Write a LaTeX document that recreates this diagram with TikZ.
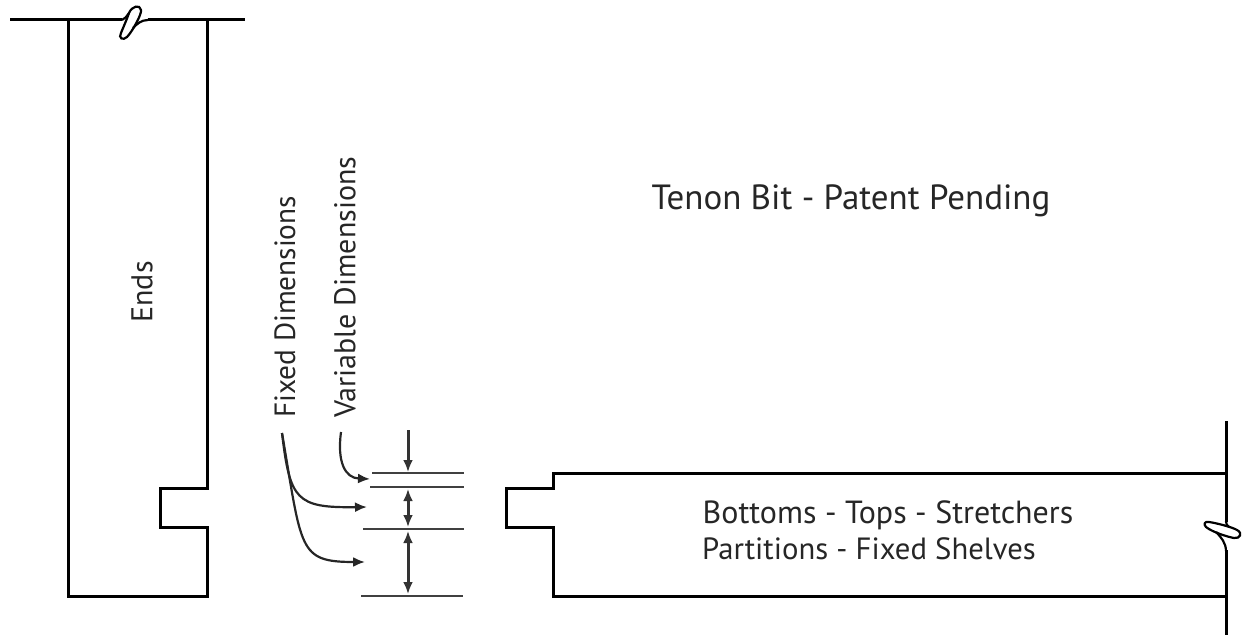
\documentclass[tikz,border=0pt]{standalone}
\usepackage{fontspec}
\setmainfont{PT Sans}
\usetikzlibrary{arrows.meta,positioning}
\begin{document}
\begin{tikzpicture}[x=1pt,y=-1pt,>={Latex[length=12pt,width=10pt]},
    outline/.style={line width=3pt,line join=miter},
    thinline/.style={line width=2pt,draw=black!75},
    dimline/.style={line width=3pt,draw=black!80,<->},
    leader/.style={line width=2.2pt,draw=black!85,->},
    breakline/.style={line width=2.2pt},
    label/.style={inner sep=0pt,text=black!85}]
  \useasboundingbox (0,0) rectangle (1243,636);
  % end panel
  \draw[outline] (10,20) -- (122,20);
  \draw[outline] (148,20) -- (245,20);
  \draw[outline] (68,20) -- (68,596) -- (207,596) -- (207,527) -- (160,527)
    -- (160,488) -- (207,488) -- (207,20);
  \draw[breakline] (122,20) .. controls (125,19) and (127,16) .. (129,13);
  \draw[breakline] (129,13) .. controls (132,6) and (140,4) .. (141,10)
    .. controls (142,14) and (132,32) .. (127,37)
    .. controls (123,41) and (118,38) .. (121,33)
    .. controls (123,28) and (127,19) .. (129,13) -- cycle;
  \draw[breakline] (133,28) .. controls (137,24) and (141,20) .. (148,20);
  % shelf
  \draw[outline] (1226,473) -- (553,473) -- (553,488) -- (506,488) -- (506,527)
    -- (553,527) -- (553,596) -- (1226,596);
  \draw[outline] (1226,421) -- (1226,522);
  \draw[outline] (1226,550) -- (1226,635);
  \draw[breakline] (1226,521) .. controls (1226,524) and (1227,526) .. (1229,527);
  \draw[breakline] (1209,522) .. controls (1216,523) and (1232,527) .. (1237,530)
    .. controls (1243,533) and (1240,539) .. (1234,538)
    .. controls (1228,537) and (1212,532) .. (1206,527)
    .. controls (1203,524) and (1205,521) .. (1209,522) -- cycle;
  \draw[breakline] (1216,532) .. controls (1221,537) and (1226,543) .. (1226,551);
  % dimension lines
  \coordinate (t_1) at (408,430);
  \coordinate (l_1) at (372,473); \coordinate (r_1) at (464,473);
  \coordinate (l_2) at (370,487); \coordinate (r_2) at (464,487);
  \coordinate (l_3) at (363,529); \coordinate (r_3) at (464,529);
  \coordinate (l_4) at (361,596); \coordinate (r_4) at (463,596);
  \draw[thinline] (l_1) -- (r_1);
  \draw[thinline] (l_2) -- (r_2);
  \draw[thinline] (l_3) -- (r_3);
  \draw[thinline] (l_4) -- (r_4);
  \coordinate (d_1) at (408,472);
  \coordinate (d_2) at (408,489);
  \coordinate (d_3) at (408,527);
  \coordinate (d_4) at (408,531);
  \coordinate (d_5) at (408,594);
  \draw[dimline,<-] (d_1) -- (t_1);
  \draw[dimline] (d_2) -- (d_3);
  \draw[dimline] (d_4) -- (d_5);
  % labels
  \node[label,font=\fontsize{29.3}{32}\selectfont,rotate=90,anchor=west] (fixed) at (285,418) {Fixed Dimensions};
  \node[label,font=\fontsize{30}{33}\selectfont,rotate=90,anchor=west] (variable) at (345,418) {Variable Dimensions};
  \node[label,font=\fontsize{30}{33}\selectfont,rotate=90] (ends) at (142,292) {Ends};
  \node[label,font=\fontsize{35}{38}\selectfont] (tenon) at (851,201) {Tenon Bit - Patent Pending};
  \node[label,font=\fontsize{32}{36}\selectfont] (bottoms) at (888,515) {Bottoms - Tops - Stretchers};
  \node[label,font=\fontsize{30.7}{34}\selectfont] (partitions) at (869,549) {Partitions - Fixed Shelves};
  % leaders
  \coordinate (f_0) at (282,433);
  \coordinate (v_0) at (341,432);
  \coordinate (f_1) at (367,507);
  \coordinate (f_2) at (365,562);
  \coordinate (v_1) at (370,479);
  \draw[leader] (v_0) .. controls (337,462) and (345,478) .. (v_1);
  \draw[leader] (f_0) .. controls (290,500) and (296,508) .. (f_1);
  \draw[leader] (f_0) .. controls (302,550) and (298,562) .. (f_2);
\end{tikzpicture}
\end{document}
